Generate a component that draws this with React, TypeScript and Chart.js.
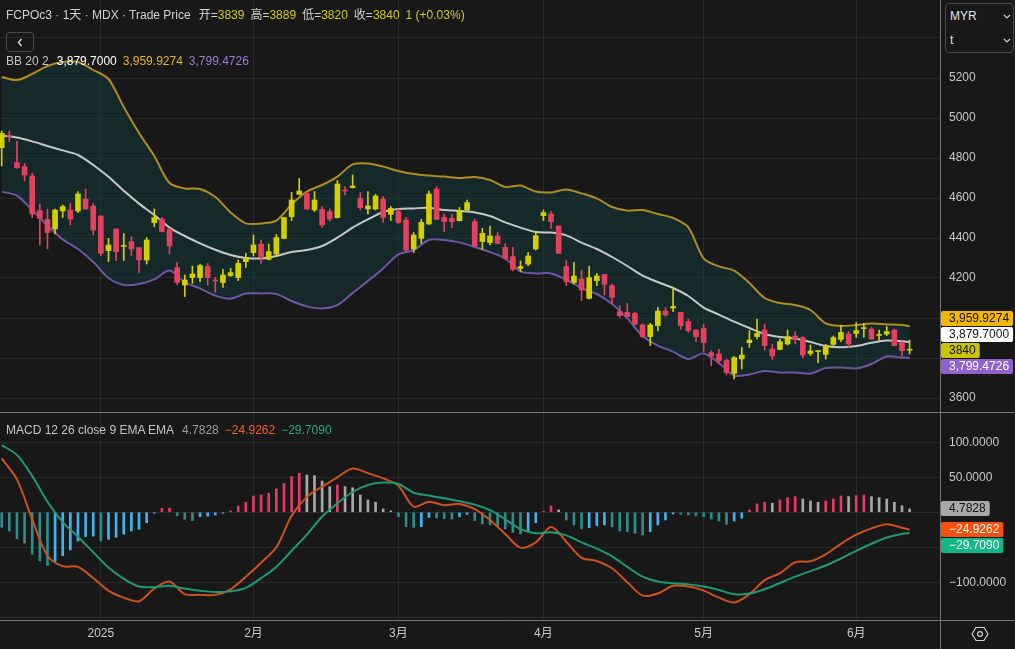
import React, { useEffect, useRef } from "react";
import { Chart, registerables } from "chart.js";

Chart.register(...registerables);

const FONT = "'Liberation Sans', Arial, 'Noto Sans CJK SC', sans-serif";

// ---------------- data ----------------
const monthTickIdx = [13, 33, 52, 71, 92, 112];
const monthTickLabels = ["2025", "2月", "3月", "4月", "5月", "6月"];

const openP = [4852,4912,4777,4757,4710,4537,4493,4445,4535,4540, 4535,4595,4560,4510,4337,4445,4358,4382,4352,4290, 4477,4495,4443,4252,4165,4202,4202,4257,4188,4177, 4212,4202,4282,4327,4370,4293,4320,4398,4507,4618, 4623,4540,4543,4532,4502,4638,4652,4598,4545,4545, 4595,4518,4532,4490,4345,4398,4470,4645,4503,4498, 4487,4540,4482,4382,4377,4410,4353,4307,4248,4270, 4345,4512,4520,4460,4257,4178,4195,4098,4187,4218, 4162,4032,4028,4023,3965,3907,3962,4035,4050,4028, 3982,3940,3948,3827,3820,3787,3723,3795,3877,3907, 3940,3845,3843,3870,3910,3902,3823,3832,3818,3868, 3893,3920,3923,3947,3945,3913,3920,3940,3877,3839];
const highP = [4935,4935,4885,4773,4723,4570,4545,4545,4565,4573, 4632,4645,4573,4512,4398,4446,4423,4407,4353,4402, 4545,4503,4448,4278,4215,4260,4270,4273,4203,4243, 4248,4290,4323,4415,4390,4370,4418,4505,4628,4698, 4628,4632,4557,4545,4687,4657,4715,4627,4632,4618, 4607,4557,4545,4503,4427,4493,4635,4657,4520,4518, 4553,4590,4495,4448,4460,4427,4373,4353,4285,4327, 4435,4540,4532,4460,4290,4278,4240,4260,4223,4218, 4170,4062,4073,4028,3970,3973,4053,4052,4152,4028, 3995,3943,3970,3837,3843,3793,3807,3853,3937,3995, 3970,3868,3895,3940,3932,3907,3865,3838,3868,3910, 3965,3932,3977,3973,3953,3940,3957,3945,3882,3889];
const lowP = [4760,4882,4748,4685,4502,4365,4345,4420,4503,4465, 4527,4543,4415,4312,4282,4287,4287,4312,4228,4270, 4457,4430,4320,4165,4107,4173,4182,4165,4128,4153, 4207,4187,4253,4310,4273,4290,4315,4395,4487,4615, 4540,4532,4453,4485,4500,4615,4650,4540,4520,4540, 4478,4487,4473,4332,4327,4373,4468,4493,4432,4452, 4485,4535,4360,4343,4365,4370,4293,4235,4232,4262, 4340,4487,4448,4323,4162,4170,4087,4095,4162,4115, 4070,4003,4007,3965,3902,3862,3937,4010,4032,3943, 3928,3882,3832,3762,3770,3715,3695,3745,3853,3895, 3840,3793,3840,3865,3870,3802,3812,3777,3795,3853, 3882,3853,3903,3903,3893,3885,3912,3862,3810,3820];
const closeP = [4923,4908,4752,4715,4520,4498,4427,4540,4557,4495, 4620,4545,4440,4323,4365,4332,4363,4345,4290,4390, 4502,4432,4360,4178,4190,4220,4262,4202,4185,4215, 4227,4273,4302,4365,4302,4332,4402,4502,4590,4635, 4545,4590,4465,4495,4670,4635,4660,4552,4560,4610, 4503,4548,4477,4340,4415,4478,4620,4493,4482,4482, 4537,4577,4360,4423,4410,4373,4298,4243,4257,4310, 4412,4527,4482,4323,4182,4210,4140,4202,4210,4168, 4103,4012,4007,3970,3907,3965,4035,4015,4058,3962, 3937,3907,3878,3810,3787,3728,3802,3815,3890,3923, 3862,3810,3882,3907,3893,3815,3835,3835,3862,3902, 3928,3870,3937,3950,3895,3917,3932,3862,3837,3840];

const bbIdx = [0,2,4,6,8,10,12,14,16,18,20,22,24,26,28,30,32,34,36,38,40,42,44,46,48,50,52,54,56,58,60,62,64,66,68,70,72,74,76,78,80,82,84,86,88,90,92,94,96,98,100,102,104,106,108,110,112,114,116,118,119];
const bbUpper = [5205,5190,5220,5260,5280,5280,5240,5195,5055,4925,4810,4675,4648,4645,4605,4528,4473,4473,4487,4568,4632,4665,4707,4768,4773,4757,4735,4720,4712,4707,4700,4705,4690,4655,4662,4632,4628,4643,4623,4598,4555,4537,4540,4520,4500,4453,4298,4258,4237,4175,4100,4075,4065,4040,3973,3960,3965,3972,3968,3965,3959.9274];
const bbMid = [4913,4902,4883,4860,4838,4815,4765,4706,4636,4572,4515,4452,4410,4373,4341,4315,4300,4298,4310,4330,4340,4360,4402,4452,4493,4530,4545,4548,4551,4540,4535,4528,4510,4478,4452,4430,4427,4413,4377,4345,4305,4260,4212,4180,4150,4110,4052,4017,3982,3950,3920,3905,3897,3880,3860,3854,3860,3876,3887,3884,3879.7];
const bbLower = [4632,4612,4540,4462,4393,4345,4280,4200,4165,4170,4193,4238,4178,4148,4112,4097,4122,4123,4120,4085,4058,4048,4065,4125,4185,4248,4318,4340,4390,4390,4378,4355,4330,4298,4233,4223,4223,4192,4150,4120,4070,3998,3910,3862,3832,3795,3823,3775,3712,3718,3735,3727,3728,3722,3750,3752,3748,3770,3808,3802,3799.4726];

const macdVals = [77,47,-10,-62,-77,-78,-94,-112,-122,-127,-109,-99,-117,-118,-118,-110,-92,-72,-50,-5,22,36.6,50,62.5,56,48.5,38,8,15,10,12,4.5,-11,-31,-50.5,-43,-21,-42,-65,-69.5,-80,-100,-119,-116,-105,-106,-112,-122,-129,-117,-97,-87,-71.4,-70,-60,-45,-32,-23,-17,-22,-24.9262];
const signalVals = [96,82,52,15,-14,-35,-57,-79,-95,-106,-107,-105,-109,-112,-114,-113,-108,-94,-78,-55,-32,-6,13,29,39,42.4,40.5,28,24,20,16,11,3,-10,-24,-30,-28.6,-33,-43,-52,-63,-78,-92,-99,-101.5,-103,-106,-111,-117,-116,-110,-101,-92,-84,-76,-66,-55,-45,-36,-31,-29.709];
const histVals = [-21.4,-26.7,-38,-44,-60,-69.5,-76,-70.5,-62,-53.8, -41,-34.7,-34,-41,-38.6,-35.7,-31.4,-26.7,-24.3,-14.8, -1,5.7,6,-4.8,-10,-11.9,-6.2,-5.5,-3.8,-1, 1.9,9,14.3,23.3,24.8,27.1,33.3,41.4,51,55.7, 53.3,52.4,44.7,36.7,39,36.7,35.2,24.8,17.6,14.3, 4.8,1.9,-6.2,-20.5,-21.5,-20.5,-7.5,-8,-9,-9.5, -6.2,-3,-12,-16.7,-18,-20.5,-23.8,-29,-31,-26.7, -14.8,1,9,3.3,-11,-18,-23.8,-21.9,-19,-18, -20.5,-26.7,-27.6,-30,-32.4,-27.6,-18,-11,-2.4,-2.9, -3.8,-5.2,-6.2,-9.5,-12.4,-17.1,-12.4,-8.6,3.3,11.9, 14.3,12.9,17.6,21,22.4,19,16.2,14.3,16.2,19, 23.3,22.4,23.8,24.8,22.4,21,19,14.3,9.5,4.7828];

const priceGridValues = [3600, 3800, 4000, 4200, 4400, 4600, 4800, 5000, 5200, 5400];
const priceTickLabels = [3600, 4200, 4400, 4600, 4800, 5000, 5200];
const macdGridValues = [-150, -100, -50, 0, 50, 100];
const macdTickLabels = [-100, 50, 100];

// ---------------- styles ----------------
const BG = "#181818";
const GRID = "#2a2a2a";
const SEP = "#767676";
const TICK = "#c8c8c8";
const UP = "#d4cf00";
const DOWN = "#e3425f";
const UPPER_C = "#b08d1e";
const MID_C = "#c6c8c8";
const LOWER_C = "#6e56a3";
const BAND_FILL = "rgba(18, 62, 64, 0.45)";
const MACD_C = "#cc521c";
const SIG_C = "#1e9a72";
const H_RED = "#e23a64";
const H_GRAY = "#a8a8a8";
const H_TEAL = "#2b8e8e";
const H_BLUE = "#40b4f2";

const X_MIN = -0.22;
const X_MAX = 122.98;

const fmtK = (v: number) =>
  v.toLocaleString("en-US", { minimumFractionDigits: 4, maximumFractionDigits: 4 });
const fmtS = (v: number) => (v < 0 ? "\u2212" : "") + Math.abs(v).toFixed(4);
const last = (a: number[]) => a[a.length - 1];

function layoutTags(ys: number[], anchor: number, h: number) {
  const order = ys.map((_, i) => i).sort((a, b) => ys[a] - ys[b]);
  const out = ys.slice();
  const pos = order.indexOf(anchor);
  for (let k = pos - 1; k >= 0; k--) {
    const i = order[k], j = order[k + 1];
    if (out[j] - out[i] < h) out[i] = out[j] - h;
  }
  for (let k = pos + 1; k < order.length; k++) {
    const i = order[k], j = order[k - 1];
    if (out[i] - out[j] < h) out[i] = out[j] + h;
  }
  return out;
}

function tagPlugin(tags: any[], anchor: number) {
  return {
    id: "tags",
    afterDraw(chart: any) {
      const { ctx, chartArea } = chart;
      const scale = chart.scales.y;
      const ys = tags.map((t) => scale.getPixelForValue(t.value));
      const pos = layoutTags(ys, anchor, 16);
      ctx.save();
      ctx.font = `12px ${FONT}`;
      ctx.textBaseline = "middle";
      ctx.textAlign = "left";
      tags.forEach((t, i) => {
        const w = ctx.measureText(t.text).width;
        const x0 = Math.round(chartArea.right) + 1;
        const bw = Math.min(w + 12, chart.width - x0 - 1);
        const y0 = Math.round(pos[i] - 7.5);
        ctx.fillStyle = t.bg;
        ctx.beginPath();
        if (ctx.roundRect) ctx.roundRect(x0, y0, bw, 15, 2);
        else ctx.rect(x0, y0, bw, 15);
        ctx.fill();
        ctx.fillStyle = t.fg;
        ctx.fillText(t.text, chartArea.right + 9, y0 + 8);
      });
      ctx.restore();
    },
  };
}

function sepPlugin(top: boolean, bottom: boolean) {
  return {
    id: "sep",
    afterDraw(chart: any) {
      const { ctx, chartArea, width, height } = chart;
      ctx.save();
      ctx.strokeStyle = SEP;
      ctx.lineWidth = 1;
      ctx.beginPath();
      const x = Math.round(chartArea.right) + 0.5;
      ctx.moveTo(x, 0);
      ctx.lineTo(x, height);
      if (top) {
        ctx.moveTo(0, 0.5);
        ctx.lineTo(width, 0.5);
      }
      if (bottom) {
        const y = Math.round(chartArea.bottom) + 0.5;
        ctx.moveTo(0, y);
        ctx.lineTo(width, y);
      }
      ctx.stroke();
      ctx.restore();
    },
  };
}

function xScale(showLabels: boolean, h: number) {
  return {
    type: "linear",
    min: X_MIN,
    max: X_MAX,
    offset: false,
    afterBuildTicks: (s: any) => {
      s.ticks = monthTickIdx.map((v) => ({ value: v }));
    },
    afterFit: (s: any) => {
      s.height = h;
      s.paddingLeft = 0;
      s.paddingRight = 0;
    },
    grid: { color: GRID, drawTicks: false, offset: false },
    border: { display: false },
    ticks: {
      display: showLabels,
      autoSkip: false,
      maxRotation: 0,
      padding: 6,
      color: TICK,
      font: { size: 12, family: FONT },
      callback: (_v: any, i: number) => monthTickLabels[i] ?? "",
    },
  };
}

function yScale(min: number, max: number, grid: number[], labels: number[], fmt: (v: number) => string) {
  return {
    position: "right",
    min,
    max,
    afterBuildTicks: (s: any) => {
      s.ticks = grid.map((v) => ({ value: v }));
    },
    afterFit: (s: any) => {
      s.width = 75;
      s.paddingTop = 0;
      s.paddingBottom = 0;
    },
    grid: { color: GRID, drawTicks: false },
    border: { display: false },
    ticks: {
      padding: 9,
      color: TICK,
      font: { size: 12, family: FONT },
      callback: (v: number) => (labels.includes(v) ? fmt(v) : ""),
    },
  };
}

const pts = (xs: number[], ys: number[]) => xs.map((x, k) => ({ x, y: ys[k] }));

export default function App() {
  const priceRef = useRef<HTMLCanvasElement>(null);
  const macdRef = useRef<HTMLCanvasElement>(null);

  useEffect(() => {
    const idx = openP.map((_, i) => i);
    const candleColors = idx.map((i) => (closeP[i] >= openP[i] ? UP : DOWN));
    const histColors = histVals.map((v, i) => {
      const prev = i > 0 ? histVals[i - 1] : v + 1;
      if (v >= 0) return v >= prev ? H_RED : H_GRAY;
      return v <= prev ? H_TEAL : H_BLUE;
    });

    const priceTags = [
      { value: last(bbUpper), text: fmtK(last(bbUpper)), bg: "#f2b705", fg: "#111" },
      { value: last(bbMid), text: fmtK(last(bbMid)), bg: "#ffffff", fg: "#111" },
      { value: last(closeP), text: String(last(closeP)), bg: "#c9c500", fg: "#111" },
      { value: last(bbLower), text: fmtK(last(bbLower)), bg: "#8f62cc", fg: "#ffffff" },
    ];
    const macdTags = [
      { value: last(histVals), text: fmtS(last(histVals)), bg: "#a9a9a9", fg: "#111" },
      { value: last(macdVals), text: fmtS(last(macdVals)), bg: "#f4520c", fg: "#ffffff" },
      { value: last(signalVals), text: fmtS(last(signalVals)), bg: "#13b785", fg: "#ffffff" },
    ];

    const c1 = new Chart(priceRef.current as HTMLCanvasElement, {
      type: "bar",
      data: {
        datasets: [
          { type: "line", data: pts(bbIdx, bbUpper), borderColor: UPPER_C, borderWidth: 2, pointRadius: 0, tension: 0.3, fill: 2, backgroundColor: BAND_FILL, order: 5 },
          { type: "line", data: pts(bbIdx, bbMid), borderColor: MID_C, borderWidth: 2, pointRadius: 0, tension: 0.3, fill: false, order: 4 },
          { type: "line", data: pts(bbIdx, bbLower), borderColor: LOWER_C, borderWidth: 2, pointRadius: 0, tension: 0.3, fill: false, order: 4 },
          { type: "bar", data: idx.map((i) => ({ x: i, y: [lowP[i], highP[i]] })), backgroundColor: candleColors, barThickness: 1, minBarLength: 1, grouped: false, order: 1 },
          { type: "bar", data: idx.map((i) => ({ x: i, y: [openP[i], closeP[i]] })), backgroundColor: candleColors, barThickness: 5, minBarLength: 1, grouped: false, order: 0 },
        ] as any,
      },
      options: {
        responsive: false,
        animation: false,
        events: [],
        layout: { padding: 0 },
        plugins: { legend: { display: false }, tooltip: { enabled: false } },
        scales: {
          x: xScale(false, 0) as any,
          y: yScale(3530, 5590, priceGridValues, priceTickLabels, (v) => String(v)) as any,
        },
      },
      plugins: [sepPlugin(false, false), tagPlugin(priceTags, 2)],
    } as any);

    const c2 = new Chart(macdRef.current as HTMLCanvasElement, {
      type: "bar",
      data: {
        datasets: [
          { type: "bar", data: idx.map((i) => ({ x: i, y: histVals[i] })), backgroundColor: histColors, barThickness: 2, minBarLength: 1, grouped: false, order: 2 },
          { type: "line", data: pts(bbIdx, macdVals), borderColor: MACD_C, borderWidth: 2, pointRadius: 0, tension: 0.3, fill: false, order: 1 },
          { type: "line", data: pts(bbIdx, signalVals), borderColor: SIG_C, borderWidth: 2, pointRadius: 0, tension: 0.3, fill: false, order: 0 },
        ] as any,
      },
      options: {
        responsive: false,
        animation: false,
        events: [],
        layout: { padding: 0 },
        plugins: { legend: { display: false }, tooltip: { enabled: false } },
        scales: {
          x: xScale(true, 29) as any,
          y: yScale(-153.9, 143.3, macdGridValues, macdTickLabels, fmtS) as any,
        },
      },
      plugins: [sepPlugin(true, true), tagPlugin(macdTags, 0)],
    } as any);

    return () => {
      c1.destroy();
      c2.destroy();
    };
  }, []);

  const o = last(openP), h = last(highP), l = last(lowP), c = last(closeP);
  const chg = c - o;
  const pct = ((chg / o) * 100).toFixed(2);
  const YEL = "#d0ca1e";
  const LBL = "#d1d1d1";
  const gap = (m: number) => ({ marginLeft: m });

  const chevDown = (x: number, y: number) => (
    <svg style={{ position: "absolute", left: x, top: y }} width="8" height="5" viewBox="0 0 8 5">
      <polyline points="1,1 4,4 7,1" fill="none" stroke="#cfcfcf" strokeWidth="1.2" />
    </svg>
  );

  return (
    <div style={{ position: "fixed", left: 0, top: 0, width: 1015, height: 649, background: BG, overflow: "hidden", fontFamily: FONT, fontSize: 12, color: LBL }}>
      <canvas ref={priceRef} width={1015} height={412} style={{ position: "absolute", left: 0, top: 0, width: 1015, height: 412 }} />
      <canvas ref={macdRef} width={1015} height={237} style={{ position: "absolute", left: 0, top: 412, width: 1015, height: 237 }} />

      <div style={{ position: "absolute", left: 6, top: 8, whiteSpace: "nowrap", lineHeight: "14px" }}>
        <span>FCPOc3 · 1天 · MDX · Trade Price</span>
        <span style={gap(8)}>开=<span style={{ color: YEL }}>{o}</span></span>
        <span style={gap(6)}>高=<span style={{ color: YEL }}>{h}</span></span>
        <span style={gap(6)}>低=<span style={{ color: YEL }}>{l}</span></span>
        <span style={gap(6)}>收=<span style={{ color: YEL }}>{c}</span></span>
        <span style={{ ...gap(6), color: YEL }}>{chg} (+{pct}%)</span>
      </div>

      <div style={{ position: "absolute", left: 6, top: 32, width: 28, height: 20, boxSizing: "border-box", border: "1px solid #4a4a4a", borderRadius: 4 }}>
        <svg style={{ position: "absolute", left: 10, top: 5 }} width="6" height="9" viewBox="0 0 6 9">
          <polyline points="4.5,1 1.5,4.5 4.5,8" fill="none" stroke="#dcdcdc" strokeWidth="1.4" />
        </svg>
      </div>

      <div style={{ position: "absolute", left: 6, top: 54, whiteSpace: "nowrap", lineHeight: "14px" }}>
        <span style={{ color: "#c4c4c4" }}>BB 20 2</span>
        <span style={{ ...gap(8), color: "#ffffff" }}>{fmtK(last(bbMid))}</span>
        <span style={{ ...gap(6), color: "#e3b31f" }}>{fmtK(last(bbUpper))}</span>
        <span style={{ ...gap(6), color: "#9b7bd4" }}>{fmtK(last(bbLower))}</span>
      </div>

      <div style={{ position: "absolute", left: 6, top: 423, whiteSpace: "nowrap", lineHeight: "14px" }}>
        <span style={{ color: "#c4c4c4" }}>MACD 12 26 close 9 EMA EMA</span>
        <span style={{ ...gap(8), color: "#9c9c9c" }}>{fmtS(last(histVals))}</span>
        <span style={{ ...gap(6), color: "#ff5a1f" }}>{fmtS(last(macdVals))}</span>
        <span style={{ ...gap(6), color: "#22ab7f" }}>{fmtS(last(signalVals))}</span>
      </div>

      <div style={{ position: "absolute", left: 945, top: 3, width: 69, height: 50, boxSizing: "border-box", border: "1px solid #4a4a4a", borderRadius: 4, background: BG }} />
      <div style={{ position: "absolute", left: 950, top: 9, lineHeight: "14px", color: "#e6e6e6" }}>MYR</div>
      <div style={{ position: "absolute", left: 950, top: 33, lineHeight: "14px", color: "#e6e6e6" }}>t</div>
      {chevDown(1003, 14)}
      {chevDown(1003, 38)}

      <svg style={{ position: "absolute", left: 971, top: 625 }} width="18" height="18" viewBox="0 0 18 18">
        <polygon points="5,2.5 13,2.5 17,9 13,15.5 5,15.5 1,9" fill="none" stroke="#cfcfcf" strokeWidth="1.2" />
        <circle cx="9" cy="9" r="2.4" fill="none" stroke="#cfcfcf" strokeWidth="1.2" />
      </svg>
    </div>
  );
}
